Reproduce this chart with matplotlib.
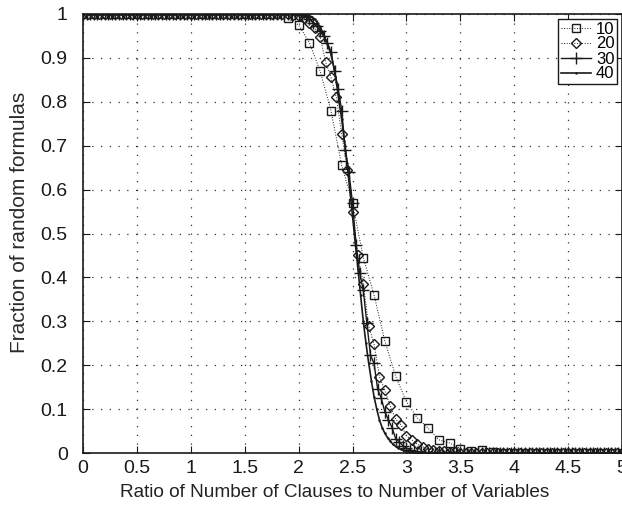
import numpy as np
import matplotlib
matplotlib.use("Agg")
import matplotlib.pyplot as plt

plt.rcParams['font.family'] = ['Liberation Sans', 'DejaVu Sans']

# fraction of random formulas vs clause/variable ratio, one series per number of variables
n_vars = ["10", "20", "30", "40"]

ratio_10 = np.arange(51) / 10
frac_10 = ([1.0] * 19 +
           [0.99, 0.975, 0.935, 0.87, 0.78, 0.655, 0.57, 0.445, 0.36, 0.255,
            0.175, 0.117, 0.08, 0.057, 0.03, 0.023, 0.01, 0.005, 0.007, 0.003] +
           [0.0] * 12)

ratio_20 = np.arange(101) / 20
frac_20 = ([1.0] * 39 +
           [0.998, 0.996, 0.99, 0.98, 0.967, 0.948, 0.891, 0.856, 0.81, 0.727,
            0.645, 0.55, 0.45, 0.386, 0.29, 0.248, 0.174, 0.143, 0.107, 0.077,
            0.064, 0.039, 0.03, 0.02, 0.014, 0.01, 0.007, 0.005, 0.004, 0.003,
            0.002, 0.001] +
           [0.0] * 30)

ratio_30 = np.arange(151) / 30
frac_30 = ([1.0] * 61 +
           [0.998, 0.994, 0.988, 0.98, 0.972, 0.962, 0.95, 0.935, 0.914, 0.87,
            0.83, 0.78, 0.69, 0.64, 0.57, 0.474, 0.41, 0.371, 0.295, 0.223,
            0.204, 0.145, 0.125, 0.094, 0.075, 0.058, 0.033, 0.025, 0.017, 0.011,
            0.007, 0.005, 0.003, 0.002, 0.001] +
           [0.0] * 55)

ratio_40 = np.arange(201) / 40
frac_40 = ([1.0] * 82 +
           [0.999, 0.998, 0.996, 0.993, 0.988, 0.98, 0.97, 0.958, 0.94, 0.925,
            0.91, 0.88, 0.845, 0.80, 0.76, 0.71, 0.66, 0.60, 0.54, 0.48,
            0.42, 0.36, 0.30, 0.25, 0.205, 0.165, 0.128, 0.10, 0.075, 0.058,
            0.045, 0.035, 0.027, 0.02, 0.015, 0.011, 0.008, 0.006, 0.004, 0.003,
            0.002, 0.001, 0.001] +
           [0.0] * 76)

fig = plt.figure(figsize=(6.22, 5.2), dpi=100)
ax = fig.add_axes([83 / 622, 67 / 520, 539 / 622, 439 / 520])

ink = '#1a1a1a'
ax.plot(ratio_10, frac_10, ls=':', lw=0.7, color=ink, marker='s', ms=5.5,
        mfc='none', mec=ink, mew=1.0, label=n_vars[0])
ax.plot(ratio_20, frac_20, ls=':', lw=0.7, color=ink, marker='D', ms=5,
        mfc='none', mec=ink, mew=1.0, label=n_vars[1])
ax.plot(ratio_30, frac_30, ls='-', lw=1.0, color=ink, marker='+', ms=8,
        mew=1.0, label=n_vars[2])
ax.plot(ratio_40, frac_40, ls='-', lw=1.2, color=ink, marker='.', ms=1.5,
        label=n_vars[3])

ax.set_xlim(0, 5)
ax.set_ylim(0, 1)
ax.set_xticks(np.arange(0, 5.01, 0.5))
ax.set_xticklabels(['0', '0.5', '1', '1.5', '2', '2.5', '3', '3.5', '4', '4.5', '5'])
ax.set_yticks(np.arange(0, 1.01, 0.1))
ax.set_yticklabels(['0', '0.1', '0.2', '0.3', '0.4', '0.5', '0.6', '0.7', '0.8', '0.9', '1'])
ax.tick_params(direction='in', length=5, width=0.8, top=True, right=True,
               labelsize=14, colors=ink)
ax.tick_params(axis='x', pad=5)
ax.tick_params(axis='y', pad=11)
ax.grid(True, ls=(0, (1, 6)), lw=0.9, color='#333333')
for sp in ax.spines.values():
    sp.set_linewidth(1.2)
    sp.set_color(ink)

ax.set_xlabel('Ratio of Number of Clauses to Number of Variables', fontsize=13.7,
              color='#222222', va='center')
ax.xaxis.set_label_coords(0.467, -0.089)
ax.set_ylabel('Fraction of random formulas', fontsize=15, color='#2a2a2a',
              va='center')
ax.yaxis.set_label_coords(-0.118, 0.526)

leg = ax.legend(loc='upper right', fontsize=12, handlelength=1.8,
                handletextpad=0.3, borderpad=0.15, labelspacing=0.0,
                fancybox=False, framealpha=1, edgecolor=ink,
                borderaxespad=0.3, markerfirst=True)
leg.get_frame().set_linewidth(1.0)

fig.savefig('out.png', dpi=100)
